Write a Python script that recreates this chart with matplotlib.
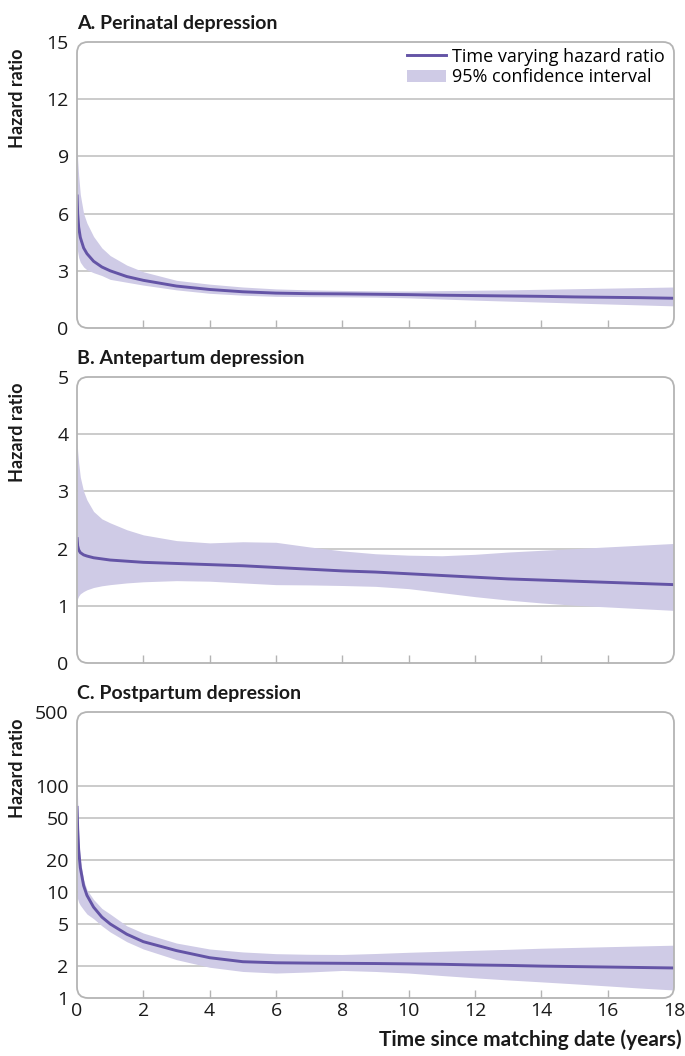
import matplotlib
matplotlib.use("Agg")
import matplotlib.pyplot as plt
from matplotlib.patches import FancyBboxPatch, Patch
from matplotlib.lines import Line2D

plt.rcParams['font.family'] = ['Open Sans', 'DejaVu Sans']

# time since matching date (years), same grid for all panels
years = [0, 0.02, 0.05, 0.1, 0.2, 0.3, 0.5, 0.75, 1, 1.5, 2, 3, 4, 5, 6, 7, 8, 9,
         10, 11, 12, 13, 14, 15, 16, 17, 18]

# A. Perinatal depression
a_hr = [7.0, 6.0, 5.3, 4.75, 4.2, 3.9, 3.5, 3.2, 3.0, 2.7, 2.5, 2.2, 2.02, 1.9, 1.83,
        1.8, 1.79, 1.77, 1.75, 1.72, 1.7, 1.68, 1.66, 1.63, 1.61, 1.59, 1.56]
a_upper = [10.0, 8.8, 8.0, 7.0, 6.0, 5.5, 4.8, 4.2, 3.8, 3.3, 2.95, 2.5, 2.3, 2.15, 2.05,
           2.0, 1.97, 1.95, 1.94, 1.96, 1.98, 2.0, 2.03, 2.06, 2.09, 2.12, 2.15]
a_lower = [4.2, 4.0, 3.7, 3.45, 3.2, 3.05, 2.9, 2.75, 2.55, 2.4, 2.25, 2.0, 1.82, 1.72, 1.66,
           1.645, 1.635, 1.62, 1.58, 1.52, 1.46, 1.41, 1.36, 1.31, 1.26, 1.21, 1.16]

# B. Antepartum depression
b_hr = [2.2, 2.05, 1.98, 1.93, 1.89, 1.87, 1.84, 1.82, 1.8, 1.78, 1.76, 1.74, 1.72, 1.7, 1.67,
        1.64, 1.61, 1.59, 1.56, 1.53, 1.5, 1.47, 1.45, 1.43, 1.41, 1.39, 1.37]
b_upper = [3.9, 3.7, 3.5, 3.25, 3.0, 2.85, 2.65, 2.52, 2.45, 2.33, 2.24, 2.14, 2.1, 2.12, 2.11,
           2.03, 1.96, 1.91, 1.885, 1.875, 1.9, 1.94, 1.97, 2.0, 2.03, 2.06, 2.09]
b_lower = [1.1, 1.13, 1.17, 1.21, 1.25, 1.28, 1.32, 1.35, 1.37, 1.4, 1.42, 1.44, 1.43, 1.4, 1.37,
           1.365, 1.355, 1.34, 1.3, 1.23, 1.16, 1.1, 1.05, 1.01, 0.98, 0.95, 0.92]

# C. Postpartum depression
c_hr = [65, 40, 25, 17, 11.5, 9.3, 7.2, 5.8, 5.0, 4.0, 3.4, 2.8, 2.4, 2.2, 2.15,
        2.135, 2.125, 2.115, 2.1, 2.08, 2.05, 2.03, 2.0, 1.98, 1.96, 1.94, 1.92]
c_upper = [130, 70, 35, 20, 13, 10.5, 8.5, 7.0, 6.2, 4.8, 4.1, 3.3, 2.9, 2.72, 2.62,
           2.585, 2.575, 2.63, 2.7, 2.76, 2.82, 2.88, 2.95, 3.0, 3.05, 3.1, 3.15]
c_lower = [9.0, 8.6, 8.0, 7.5, 6.8, 6.2, 5.6, 4.8, 4.2, 3.4, 2.9, 2.3, 1.95, 1.78, 1.72,
           1.76, 1.82, 1.78, 1.72, 1.63, 1.55, 1.48, 1.42, 1.36, 1.3, 1.24, 1.19]

titles = ["A. Perinatal depression", "B. Antepartum depression", "C. Postpartum depression"]
a_yticks = [0, 3, 6, 9, 12, 15]
b_yticks = [0, 1, 2, 3, 4, 5]
c_yticks = [1, 2, 5, 10, 20, 50, 100, 500]
xticks = list(range(0, 19, 2))

line_col = "#6454a6"
fill_col = "#cfcbe6"
frame_col = "#b4b4b4"
text_col = "#1a1a1a"
bold_font = ["Lato", "DejaVu Sans"]

W, H = 685, 1056
fig = plt.figure(figsize=(W / 100, H / 100), dpi=100)

panels = [
    (42, a_hr, a_lower, a_upper, a_yticks, False),
    (377, b_hr, b_lower, b_upper, b_yticks, False),
    (712, c_hr, c_lower, c_upper, c_yticks, True),
]

left, right = 77, 674
ph = 286
for i, (top, hr, lo, up, yt, is_log) in enumerate(panels):
    ax = fig.add_axes([left / W, 1 - (top + ph) / H, (right - left) / W, ph / H])
    ax.set_facecolor("none")
    for s in ax.spines.values():
        s.set_visible(False)

    # rounded frame
    r = 11 / (right - left)
    frame = FancyBboxPatch((0, 0), 1, 1, boxstyle=f"round,pad=0,rounding_size={r}",
                           mutation_aspect=(right - left) / ph, transform=ax.transAxes,
                           facecolor="none", edgecolor=frame_col, lw=1.3, zorder=5,
                           clip_on=False)
    ax.add_patch(frame)

    fill = ax.fill_between(years, lo, up, color=fill_col, lw=0, zorder=2)
    fill.set_snap(False)
    ln, = ax.plot(years, hr, color=line_col, lw=2.1, zorder=3, solid_capstyle="butt")
    fill.set_clip_path(frame)
    ln.set_clip_path(frame)

    ax.set_xlim(0, 18)
    if is_log:
        ax.set_yscale("log")
        ax.set_ylim(1, 500)
        ax.yaxis.set_minor_locator(matplotlib.ticker.NullLocator())
    else:
        ax.set_ylim(yt[0], yt[-1])
    ax.set_yticks(yt)
    ax.set_yticklabels([str(v) for v in yt])
    for v in yt[1:-1]:
        ax.axhline(v, color="#bdbdbd", lw=1.1, zorder=1)

    ax.set_xticks(xticks)
    ax.tick_params(axis="y", length=0, pad=6, labelsize=14, labelcolor=text_col)
    ax.tick_params(axis="x", direction="in", length=6, width=1.0, color=frame_col,
                   pad=3, labelsize=14, labelcolor=text_col)
    xt = ax.xaxis.get_major_ticks()
    xt[0].tick1line.set_visible(False)
    xt[-1].tick1line.set_visible(False)
    if not is_log:
        ax.set_xticklabels([])

    ax.text(0, 1 + 10 / ph, titles[i], transform=ax.transAxes, fontsize=14,
            fontweight="bold", color=text_col, ha="left", va="bottom", family=bold_font)
    fig.text(18 / W, 1 - (top + 6) / H, "Hazard ratio", rotation=90, fontsize=13,
             fontweight="bold", color=text_col, ha="center", va="top", family=bold_font)

    if i == 0:
        handles = [Line2D([], [], color=line_col, lw=2.1),
                   Patch(facecolor=fill_col, edgecolor="none")]
        ax.legend(handles, ["Time varying hazard ratio", "95% confidence interval"],
                  loc="upper right", bbox_to_anchor=(1 - 6 / (right - left), 1 - 2 / ph),
                  frameon=False, fontsize=13, handlelength=2.2, handletextpad=0.3,
                  labelspacing=0.15, borderpad=0.2, borderaxespad=0)

fig.text(682 / W, 1 - 1040 / H, "Time since matching date (years)", fontsize=15,
         fontweight="bold", color=text_col, ha="right", va="center", family=bold_font)

fig.savefig("out.png", dpi=100, facecolor="white")
